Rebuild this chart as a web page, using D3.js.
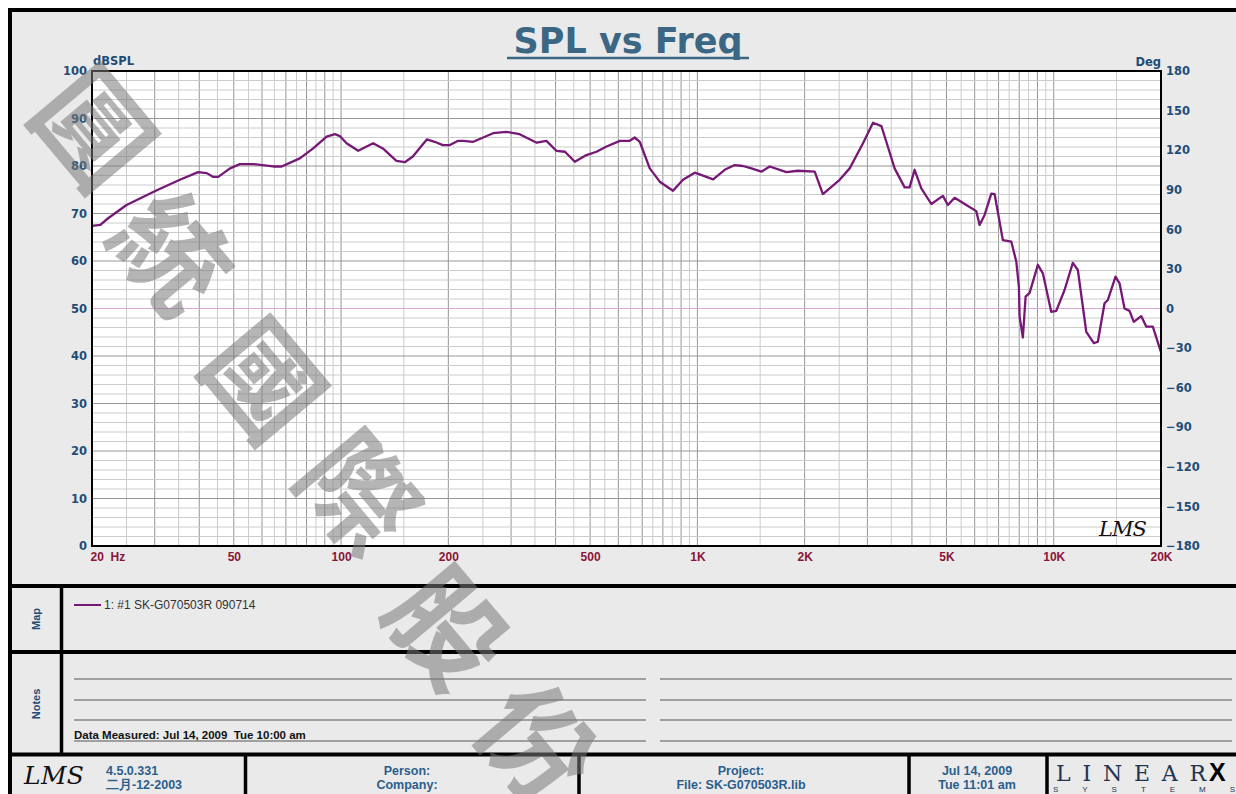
<!DOCTYPE html>
<html>
<head>
<meta charset="utf-8">
<script src="https://cdn.jsdelivr.net/npm/d3@7"></script>
<style>
  body { margin: 0; background: #fff; }
  svg { display: block; }
</style>
</head>
<body>
<div id="chart"></div>
<script>
'use strict';

// measured curve (Hz / dBSPL)
const freq = [20, 21.1, 22.2, 25, 30.4, 35.3, 39.7, 42, 43.8, 45.2, 48.8, 52, 56.7, 64.5, 68.1, 76.6, 83.5, 91.1, 96.1, 99.2,
  103.6, 111.7, 123, 131, 143, 151, 159, 174, 183, 193, 202, 213, 220, 235, 267, 291, 317, 354, 377, 402,
  425, 453, 488, 521, 556, 606, 646, 667, 689, 735, 784, 854, 911, 983, 1060, 1107, 1193, 1273, 1343, 1418,
  1512, 1595, 1778, 1916, 2134, 2250, 2507, 2675, 2916, 3110, 3284, 3390, 3576, 3816, 3940, 4070, 4250, 4534, 4886, 5046,
  5270, 5684, 6062, 6194, 6398, 6680, 6824, 7198, 7600, 7850, 7984, 8020, 8192, 8338, 8556, 9026, 9322, 9840, 10164, 10724,
  11314, 11686, 12340, 12958, 13298, 13886, 14186, 14910, 15300, 15802, 16318, 16778, 17598, 18176, 18968, 20000];
const spl = [67.4, 67.6, 69.0, 71.8, 74.9, 77.1, 78.7, 78.5, 77.7, 77.7, 79.5, 80.4, 80.4, 79.9, 79.9, 81.6, 83.7, 86.2, 86.7, 86.3,
  84.8, 83.2, 84.8, 83.7, 81.1, 80.8, 82.0, 85.6, 85.1, 84.4, 84.4, 85.3, 85.3, 85.1, 86.9, 87.2, 86.7, 84.9, 85.3, 83.2,
  83.0, 80.9, 82.3, 83.0, 84.1, 85.3, 85.3, 86.0, 85.1, 79.5, 76.7, 74.8, 77.1, 78.6, 77.7, 77.2, 79.2, 80.2, 80.0, 79.5,
  78.8, 79.9, 78.7, 79.0, 78.8, 74.1, 77.1, 79.5, 84.8, 89.1, 88.4, 85.1, 79.5, 75.5, 75.5, 79.2, 75.3, 72.0, 73.7, 71.8,
  73.3, 71.8, 70.5, 67.6, 69.7, 74.2, 74.1, 64.4, 64.1, 59.9, 54.6, 48.3, 43.9, 52.5, 53.3, 59.2, 57.4, 49.3, 49.5, 53.9,
  59.6, 58.1, 45.1, 42.7, 43.0, 51.1, 51.8, 56.7, 55.3, 50.0, 49.5, 47.2, 48.4, 46.2, 46.2, 40.8];

const splTicks = [0, 10, 20, 30, 40, 50, 60, 70, 80, 90, 100];
const degTicks = [-180, -150, -120, -90, -60, -30, 0, 30, 60, 90, 120, 150, 180];
const freqTicks = [20, 50, 100, 200, 500, 1000, 2000, 5000, 10000, 20000];
const freqLabels = ['20  Hz', '50', '100', '200', '500', '1K', '2K', '5K', '10K', '20K'];
const gridSteps = [1, 1.5, 2, 2.5, 3, 3.5, 4, 4.5, 5, 5.5, 6, 6.5, 7, 7.5, 8, 8.5, 9, 9.5];
const decades = [10, 100, 1000, 10000];

const legendLabel = '1: #1 SK-G070503R 090714';
const measuredNote = 'Data Measured: Jul 14, 2009  Tue 10:00 am';
const footerCells = [
  { x: 407, lines: ['Person:', 'Company:'] },
  { x: 741, lines: ['Project:', 'File: SK-G070503R.lib'] },
  { x: 977, lines: ['Jul 14, 2009', 'Tue 11:01 am'] }
];
const versionLines = ['4.5.0.331', '二月-12-2003'];
const watermark = ['圓', '統', '國', '際', '股', '份'];

const W = 1236, H = 794;
const plot = { left: 92, right: 1161, top: 71, bottom: 546 };

const svg = d3.select('#chart').append('svg')
  .attr('width', W).attr('height', H)
  .style('font-family', '"Liberation Sans", Arial, sans-serif');

// background + outer frame
svg.append('rect').attr('width', W).attr('height', H).attr('fill', '#fff');
svg.append('rect').attr('x', 10).attr('y', 10).attr('width', W + 20).attr('height', H + 20)
  .attr('fill', '#eaeaea').attr('stroke', '#000').attr('stroke-width', 4);

const x = d3.scaleLog().domain([20, 20000]).range([plot.left, plot.right]);
const y = d3.scaleLinear().domain([0, 100]).range([plot.bottom, plot.top]);
const yDeg = d3.scaleLinear().domain([-180, 180]).range([plot.bottom, plot.top]);

// title
svg.append('text').attr('x', 628).attr('y', 53).attr('text-anchor', 'middle')
  .style('font-family', '"DejaVu Sans", Verdana, sans-serif')
  .style('font-weight', 'bold').style('font-size', '35px').attr('fill', '#3b6784')
  .text('SPL vs Freq');
svg.append('line').attr('x1', 507).attr('x2', 749).attr('y1', 58).attr('y2', 58)
  .attr('stroke', '#3b6784').attr('stroke-width', 2.5);

// plot area
svg.append('rect').attr('x', plot.left).attr('y', plot.top)
  .attr('width', plot.right - plot.left).attr('height', plot.bottom - plot.top).attr('fill', '#fff');

const grid = svg.append('g');
const vLines = [];
decades.forEach(function (d) {
  gridSteps.forEach(function (s) {
    const f = d * s;
    if (f > 20 && f < 20000) vLines.push({ f: f, major: s % 1 === 0 });
  });
});
grid.selectAll('line.v').data(vLines).enter().append('line')
  .attr('x1', d => x(d.f)).attr('x2', d => x(d.f))
  .attr('y1', plot.top).attr('y2', plot.bottom)
  .attr('stroke', d => d.major ? '#969696' : '#cccccc').attr('stroke-width', 1);

const hLines = d3.range(2, 100, 2);
grid.selectAll('line.h').data(hLines).enter().append('line')
  .attr('x1', plot.left).attr('x2', plot.right)
  .attr('y1', d => y(d)).attr('y2', d => y(d))
  .attr('stroke', d => d % 10 === 0 ? '#969696' : '#cccccc').attr('stroke-width', 1);

// 0 deg reference
svg.append('line').attr('x1', plot.left).attr('x2', plot.right)
  .attr('y1', yDeg(0)).attr('y2', yDeg(0)).attr('stroke', '#d9a6d9').attr('stroke-width', 1.2);

// response curve
const line = d3.line().x(d => x(d[0])).y(d => y(d[1]));
svg.append('path').datum(d3.zip(freq, spl))
  .attr('d', line).attr('fill', 'none').attr('stroke', '#761876')
  .attr('stroke-width', 2.3).attr('stroke-linejoin', 'round');

svg.append('rect').attr('x', plot.left).attr('y', plot.top)
  .attr('width', plot.right - plot.left).attr('height', plot.bottom - plot.top)
  .attr('fill', 'none').attr('stroke', '#000').attr('stroke-width', 2);

// axes
const leftAxis = svg.append('g').attr('transform', 'translate(' + plot.left + ',0)')
  .call(d3.axisLeft(y).tickValues(splTicks).tickSize(0).tickPadding(5));
const rightAxis = svg.append('g').attr('transform', 'translate(' + plot.right + ',0)')
  .call(d3.axisRight(yDeg).tickValues(degTicks).tickSize(0).tickPadding(5));
[leftAxis, rightAxis].forEach(function (g) {
  g.select('.domain').remove();
  g.selectAll('text').attr('fill', '#1e4d78')
    .style('font-family', '"DejaVu Sans", Verdana, sans-serif')
    .style('font-weight', 'bold').style('font-size', '11.5px');
});

const bottomAxis = svg.append('g').attr('transform', 'translate(0,' + plot.bottom + ')')
  .call(d3.axisBottom(x).tickValues(freqTicks).tickFormat((d, i) => freqLabels[i]).tickSize(0).tickPadding(6));
bottomAxis.select('.domain').remove();
bottomAxis.selectAll('text').attr('fill', '#8a1538').style('white-space', 'pre')
  .style('font-family', '"Liberation Sans", Arial, sans-serif')
  .style('font-weight', 'bold').style('font-size', '12px');
bottomAxis.selectAll('text').filter(d => d === 20).attr('text-anchor', 'start').attr('x', -2);

svg.append('text').attr('x', 93).attr('y', 65).text('dBSPL')
  .style('font-family', '"DejaVu Sans", Verdana, sans-serif')
  .style('font-weight', 'bold').style('font-size', '11.5px').attr('fill', '#1e4d78');
svg.append('text').attr('x', 1161).attr('y', 66).attr('text-anchor', 'end').text('Deg')
  .style('font-family', '"DejaVu Sans", Verdana, sans-serif')
  .style('font-weight', 'bold').style('font-size', '11.5px').attr('fill', '#1e4d78');

// LMS mark in the plot
svg.append('text').attr('x', 1099).attr('y', 536).text('LMS')
  .style('font-family', '"DejaVu Serif", serif').style('font-style', 'italic')
  .style('font-size', '21px').attr('fill', '#111').attr('textLength', 48);

// panels
function thick(x1, y1, x2, y2, w) {
  svg.append('line').attr('x1', x1).attr('y1', y1).attr('x2', x2).attr('y2', y2)
    .attr('stroke', '#000').attr('stroke-width', w || 4);
}
thick(8, 586, W, 586);
thick(8, 652, W, 652);
thick(8, 754.5, W, 754.5);
thick(61.5, 586, 61.5, 754.5, 3.5);
[245.5, 579, 909, 1047].forEach(function (vx) { thick(vx, 754.5, vx, H, 3.5); });

function sideLabel(text, cy) {
  svg.append('text').attr('transform', 'translate(40,' + cy + ') rotate(-90)')
    .attr('text-anchor', 'middle').text(text)
    .style('font-weight', 'bold').style('font-size', '11px').attr('fill', '#1e4d78');
}
sideLabel('Map', 619);
sideLabel('Notes', 704);

// legend
svg.append('line').attr('x1', 74).attr('x2', 101).attr('y1', 605).attr('y2', 605)
  .attr('stroke', '#761876').attr('stroke-width', 2);
svg.append('text').attr('x', 104).attr('y', 609).text(legendLabel)
  .style('font-size', '12px').attr('fill', '#333');

// notes lines
const noteRows = [679, 700, 720, 741];
[[74, 646], [660, 1232]].forEach(function (span) {
  svg.selectAll(null).data(noteRows).enter().append('line')
    .attr('x1', span[0]).attr('x2', span[1]).attr('y1', d => d).attr('y2', d => d)
    .attr('stroke', '#555').attr('stroke-width', 1);
});
svg.append('text').attr('x', 74).attr('y', 739).text(measuredNote).style('white-space', 'pre')
  .style('font-weight', 'bold').style('font-size', '11.5px').attr('fill', '#111');

// footer
svg.append('text').attr('x', 24).attr('y', 784).text('LMS')
  .style('font-family', '"DejaVu Serif", serif').style('font-style', 'italic')
  .style('font-size', '25px').attr('fill', '#111').attr('textLength', 60);
versionLines.forEach(function (t, i) {
  svg.append('text').attr('x', 106).attr('y', 775 + i * 14).text(t)
    .style('font-weight', 'bold').style('font-size', '12.5px').attr('fill', '#2b5e8c');
});
footerCells.forEach(function (c) {
  c.lines.forEach(function (t, i) {
    svg.append('text').attr('x', c.x).attr('y', 775 + i * 14).attr('text-anchor', 'middle').text(t)
      .style('font-weight', 'bold').style('font-size', '12.5px').attr('fill', '#2b5e8c');
  });
});
svg.append('text').attr('x', 1056).attr('y', 781).text('LINEAR')
  .style('font-family', '"DejaVu Serif", serif').style('font-size', '22px')
  .style('font-weight', '200').attr('fill', '#24344f').attr('textLength', 150);
svg.append('text').attr('x', 1209).attr('y', 781).text('X')
  .style('font-weight', 'bold').style('font-size', '25px').attr('fill', '#000');
svg.append('text').attr('x', 1053).attr('y', 792).text('SYSTEMS')
  .style('font-size', '8px').attr('fill', '#24344f').attr('textLength', 182);

// watermark
const wmPos = [[92, 130], [170, 255], [262, 382], [357, 495], [445, 630], [535, 745]];
svg.append('g').selectAll('text').data(watermark).enter().append('text')
  .attr('transform', (d, i) => 'translate(' + wmPos[i][0] + ',' + wmPos[i][1] + ') rotate(50)')
  .attr('text-anchor', 'middle').attr('dy', '0.35em').text(d => d)
  .style('font-family', '"Noto Sans CJK TC", "Noto Sans CJK SC", sans-serif')
  .style('font-weight', 'bold')
  .style('font-size', '112px').attr('fill', '#7a7a7a').attr('opacity', 0.55);
</script>
</body>
</html>
